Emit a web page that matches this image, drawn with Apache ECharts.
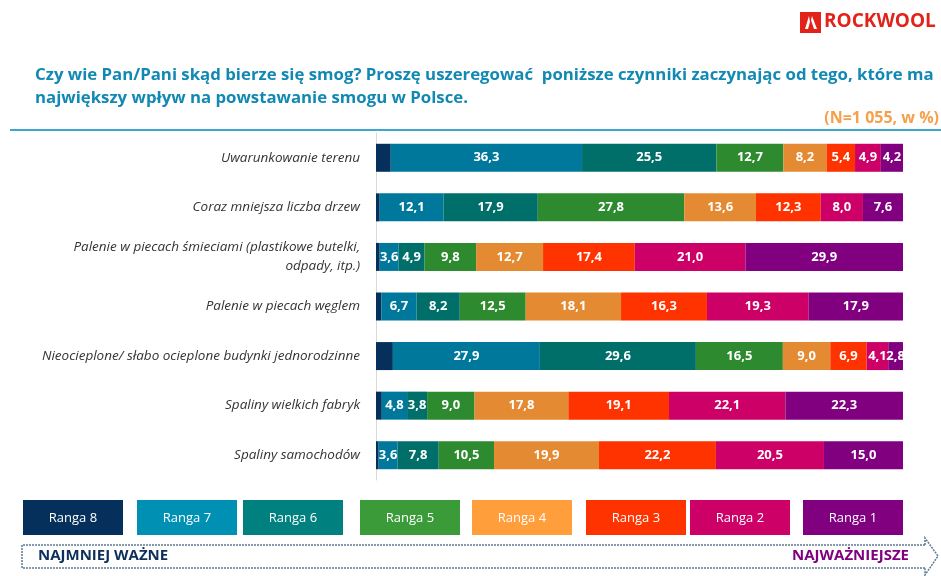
<!DOCTYPE html>
<html>
<head>
<meta charset="utf-8">
<script src="https://cdn.jsdelivr.net/npm/echarts@6/dist/echarts.min.js"></script>
<style>
  html, body { margin: 0; padding: 0; background: #fff; }
  #main { width: 941px; height: 576px; }
</style>
</head>
<body>
<div id="main"></div>
<script>
// dane
const categories = [
  'Uwarunkowanie terenu',
  'Coraz mniejsza liczba drzew',
  'Palenie w piecach śmieciami (plastikowe butelki,\nodpady, itp.)',
  'Palenie w piecach węglem',
  'Nieocieplone/ słabo ocieplone budynki jednorodzinne',
  'Spaliny wielkich fabryk',
  'Spaliny samochodów'
]
const rankNames = ['Ranga 8', 'Ranga 7', 'Ranga 6', 'Ranga 5', 'Ranga 4', 'Ranga 3', 'Ranga 2', 'Ranga 1']
const rank8 = [2.8, 0.7, 0.7, 1.0, 3.2, 1.1, 0.5]
const rank7 = [36.3, 12.1, 3.6, 6.7, 27.9, 4.8, 3.6]
const rank6 = [25.5, 17.9, 4.9, 8.2, 29.6, 3.8, 7.8]
const rank5 = [12.7, 27.8, 9.8, 12.5, 16.5, 9.0, 10.5]
const rank4 = [8.2, 13.6, 12.7, 18.1, 9.0, 17.8, 19.9]
const rank3 = [5.4, 12.3, 17.4, 16.3, 6.9, 19.1, 22.2]
const rank2 = [4.9, 8.0, 21.0, 19.3, 4.1, 22.1, 20.5]
const rank1 = [4.2, 7.6, 29.9, 17.9, 2.8, 22.3, 15.0]
const rankData = [rank8, rank7, rank6, rank5, rank4, rank3, rank2, rank1]

const barColors = ['#04305B', '#00789C', '#006F6A', '#2E8A2F', '#E48A32', '#FF3300', '#CC0066', '#800080']
const legendColors = ['#04305B', '#0090B3', '#00807F', '#3A9B38', '#FF9E3A', '#FF3300', '#CC0066', '#800080']
const legendX = [23, 137, 243, 360, 472, 586, 690, 803]

const font = '"Liberation Sans Narrow", "Open Sans", "Noto Sans", sans-serif'

let myChart = echarts.init(document.getElementById('main'))

let series = rankData.map(function (d, i) {
  return {
    name: rankNames[i],
    type: 'bar',
    stack: 'all',
    barWidth: 28,
    data: d,
    itemStyle: {
      color: barColors[i]
    },
    label: {
      show: i > 0,
      position: 'inside',
      color: '#fff',
      fontWeight: 'bold',
      fontSize: 13,
      fontFamily: font,
      formatter: function (p) {
        return p.value.toFixed(1).replace('.', ',')
      }
    }
  }
})

let graphics = []
// logo
graphics.push({ type: 'rect', shape: { x: 800, y: 12, width: 21, height: 21 }, style: { fill: '#E2231A' } })
graphics.push({ type: 'polygon', shape: { points: [[809, 16], [805, 29], [808, 29], [810, 22]] }, style: { fill: '#fff' } })
graphics.push({ type: 'polygon', shape: { points: [[812, 16], [817, 29], [814, 29], [811, 20]] }, style: { fill: '#fff' } })
graphics.push({ type: 'text', left: 824, top: 12, style: { text: 'ROCKWOOL', fill: '#E2231A', font: 'bold 19px ' + font } })
// tytuł
graphics.push({
  type: 'text', left: 35, top: 64,
  style: {
    text: 'Czy wie Pan/Pani skąd bierze się smog? Proszę uszeregować  poniższe czynniki zaczynając od tego, które ma\nnajwiększy wpływ na powstawanie smogu w Polsce.',
    fill: '#1289B3', font: 'bold 16.8px ' + font, lineHeight: 23
  }
})
graphics.push({ type: 'text', right: 2, top: 110, style: { text: '(N=1 055, w %)', fill: '#F5A04A', font: 'bold 16px ' + font } })
graphics.push({ type: 'line', shape: { x1: 10, y1: 130, x2: 941, y2: 130 }, style: { stroke: '#3FA6D2', lineWidth: 2 } })
// legenda
rankNames.forEach(function (n, i) {
  graphics.push({
    type: 'rect', shape: { x: legendX[i], y: 500, width: 100, height: 35 },
    style: { fill: legendColors[i] }
  })
  graphics.push({
    type: 'text', x: legendX[i] + 50, y: 518,
    style: { text: n, fill: '#fff', font: '13px ' + font, align: 'center', verticalAlign: 'middle' }
  })
})
// strzałka
graphics.push({
  type: 'polyline',
  shape: { points: [[925, 545], [22, 545], [22, 568], [925, 568]] },
  style: { stroke: '#5F7A94', lineWidth: 1.5, lineDash: [2, 1], fill: null }
})
graphics.push({
  type: 'polyline',
  shape: { points: [[925, 545], [925, 538], [938, 556], [925, 575], [925, 568]] },
  style: { stroke: '#5F7A94', lineWidth: 1.5, lineDash: [2, 1], fill: null }
})
graphics.push({ type: 'text', left: 38, top: 548, style: { text: 'NAJMNIEJ WAŻNE', fill: '#0D2F5A', font: 'bold 15px ' + font } })
graphics.push({ type: 'text', right: 32, top: 548, style: { text: 'NAJWAŻNIEJSZE', fill: '#800080', font: 'bold 15px ' + font } })

let option = {
  backgroundColor: '#ffffff',
  animation: false,
  grid: {
    top: 133,
    left: 376,
    right: 38,
    bottom: 96
  },
  xAxis: {
    type: 'value',
    min: 0,
    max: 100,
    show: false
  },
  yAxis: {
    type: 'category',
    inverse: true,
    data: categories,
    axisTick: { show: false },
    axisLine: { show: true, lineStyle: { color: '#D9D9D9', width: 1 } },
    axisLabel: {
      margin: 16,
      color: '#333',
      fontSize: 13.5,
      fontStyle: 'italic',
      fontFamily: font,
      align: 'right',
      lineHeight: 19
    }
  },
  series: series,
  graphic: graphics
}
myChart.clear()
myChart.setOption(option)
</script>
</body>
</html>
